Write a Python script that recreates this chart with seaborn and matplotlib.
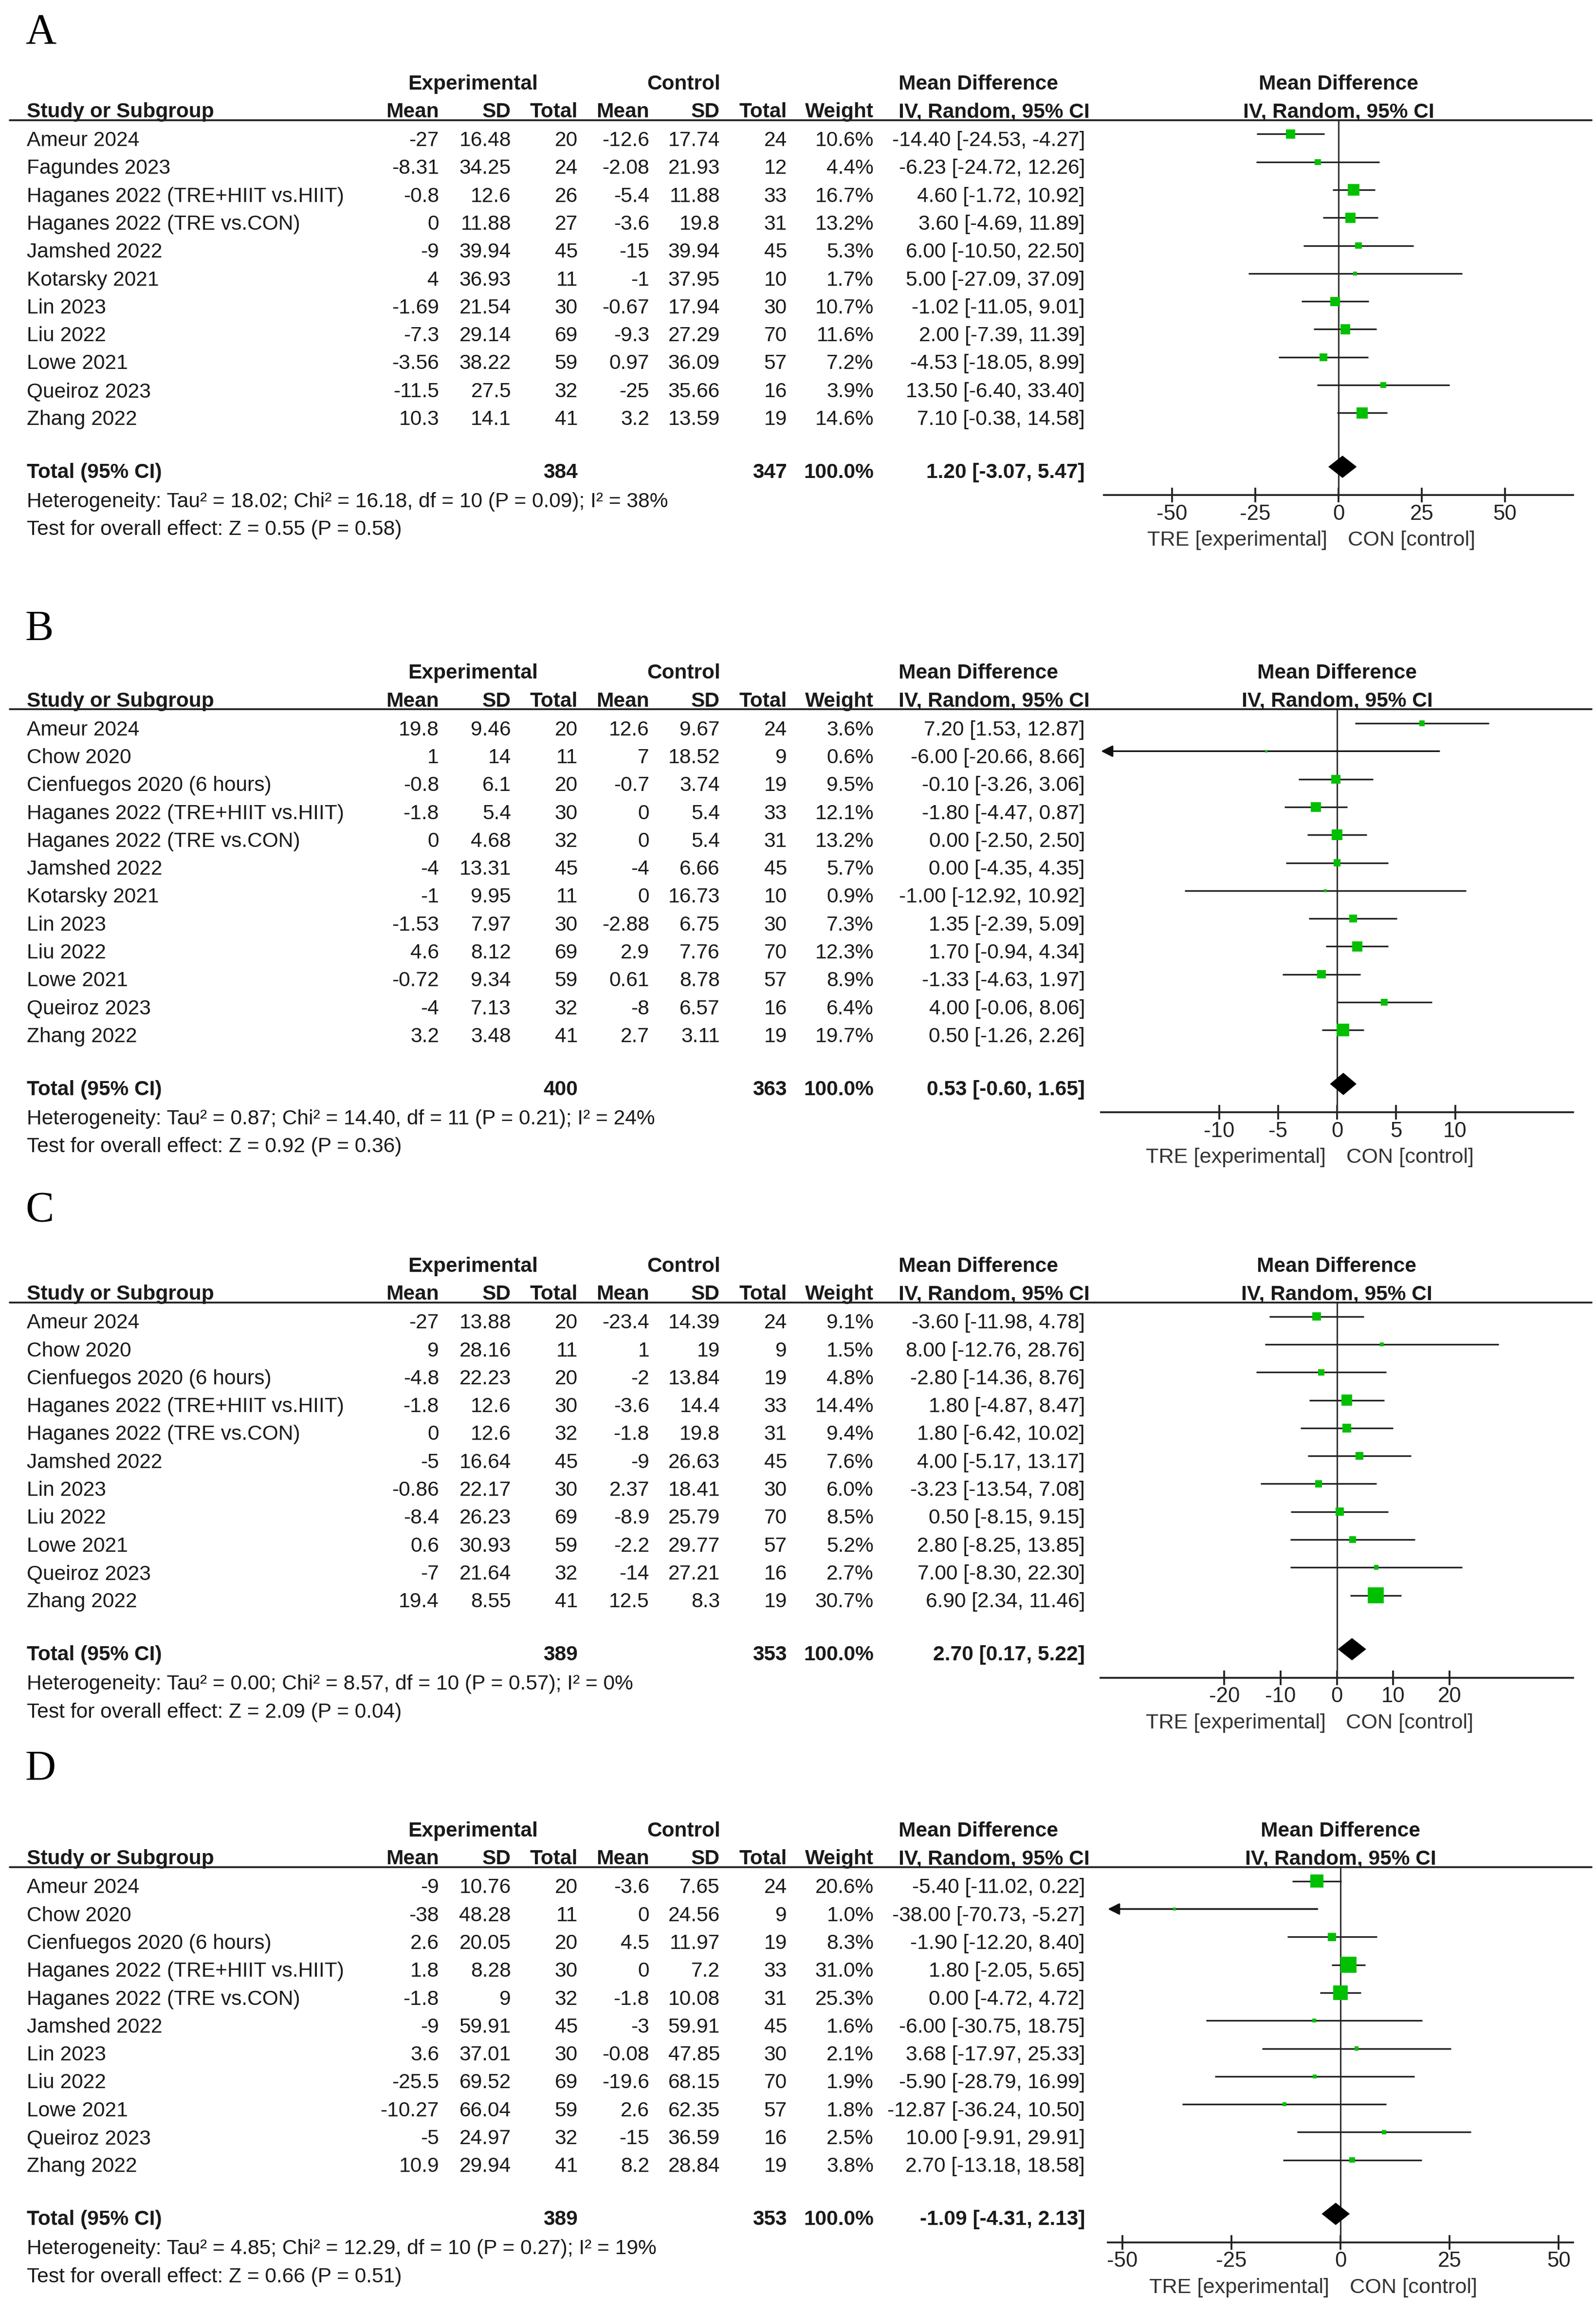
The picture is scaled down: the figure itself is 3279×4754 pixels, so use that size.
import pandas as pd
import seaborn as sns
import matplotlib.pyplot as plt
from matplotlib.lines import Line2D
from matplotlib.transforms import blended_transform_factory

# ---------------- panel A ----------------
a_study = ['Ameur 2024', 'Fagundes 2023', 'Haganes 2022 (TRE+HIIT vs.HIIT)', 'Haganes 2022 (TRE vs.CON)',
           'Jamshed 2022', 'Kotarsky 2021', 'Lin 2023', 'Liu 2022', 'Lowe 2021', 'Queiroz 2023', 'Zhang 2022']
a_exp_mean = [-27, -8.31, -0.8, 0, -9, 4, -1.69, -7.3, -3.56, -11.5, 10.3]
a_exp_sd = [16.48, 34.25, 12.6, 11.88, 39.94, 36.93, 21.54, 29.14, 38.22, 27.5, 14.1]
a_exp_n = [20, 24, 26, 27, 45, 11, 30, 69, 59, 32, 41]
a_ctl_mean = [-12.6, -2.08, -5.4, -3.6, -15, -1, -0.67, -9.3, 0.97, -25, 3.2]
a_ctl_sd = [17.74, 21.93, 11.88, 19.8, 39.94, 37.95, 17.94, 27.29, 36.09, 35.66, 13.59]
a_ctl_n = [24, 12, 33, 31, 45, 10, 30, 70, 57, 16, 19]
a_weight = [10.6, 4.4, 16.7, 13.2, 5.3, 1.7, 10.7, 11.6, 7.2, 3.9, 14.6]
a_md = [-14.40, -6.23, 4.60, 3.60, 6.00, 5.00, -1.02, 2.00, -4.53, 13.50, 7.10]
a_lo = [-24.53, -24.72, -1.72, -4.69, -10.50, -27.09, -11.05, -7.39, -18.05, -6.40, -0.38]
a_hi = [-4.27, 12.26, 10.92, 11.89, 22.50, 37.09, 9.01, 11.39, 8.99, 33.40, 14.58]
a_total = [384, 347, 1.20, -3.07, 5.47]        # n exp, n ctl, MD, lower, upper
a_het = [18.02, 16.18, 10, 0.09, 38]           # tau2, chi2, df, P, I2
a_effect = [0.55, 0.58]                        # Z, P
a_ticks = [-50, -25, 0, 25, 50]

# ---------------- panel B ----------------
b_study = ['Ameur 2024', 'Chow 2020', 'Cienfuegos 2020 (6 hours)', 'Haganes 2022 (TRE+HIIT vs.HIIT)',
           'Haganes 2022 (TRE vs.CON)', 'Jamshed 2022', 'Kotarsky 2021', 'Lin 2023', 'Liu 2022',
           'Lowe 2021', 'Queiroz 2023', 'Zhang 2022']
b_exp_mean = [19.8, 1, -0.8, -1.8, 0, -4, -1, -1.53, 4.6, -0.72, -4, 3.2]
b_exp_sd = [9.46, 14, 6.1, 5.4, 4.68, 13.31, 9.95, 7.97, 8.12, 9.34, 7.13, 3.48]
b_exp_n = [20, 11, 20, 30, 32, 45, 11, 30, 69, 59, 32, 41]
b_ctl_mean = [12.6, 7, -0.7, 0, 0, -4, 0, -2.88, 2.9, 0.61, -8, 2.7]
b_ctl_sd = [9.67, 18.52, 3.74, 5.4, 5.4, 6.66, 16.73, 6.75, 7.76, 8.78, 6.57, 3.11]
b_ctl_n = [24, 9, 19, 33, 31, 45, 10, 30, 70, 57, 16, 19]
b_weight = [3.6, 0.6, 9.5, 12.1, 13.2, 5.7, 0.9, 7.3, 12.3, 8.9, 6.4, 19.7]
b_md = [7.20, -6.00, -0.10, -1.80, 0.00, 0.00, -1.00, 1.35, 1.70, -1.33, 4.00, 0.50]
b_lo = [1.53, -20.66, -3.26, -4.47, -2.50, -4.35, -12.92, -2.39, -0.94, -4.63, -0.06, -1.26]
b_hi = [12.87, 8.66, 3.06, 0.87, 2.50, 4.35, 10.92, 5.09, 4.34, 1.97, 8.06, 2.26]
b_total = [400, 363, 0.53, -0.60, 1.65]
b_het = [0.87, 14.40, 11, 0.21, 24]
b_effect = [0.92, 0.36]
b_ticks = [-10, -5, 0, 5, 10]

# ---------------- panel C ----------------
c_study = ['Ameur 2024', 'Chow 2020', 'Cienfuegos 2020 (6 hours)', 'Haganes 2022 (TRE+HIIT vs.HIIT)',
           'Haganes 2022 (TRE vs.CON)', 'Jamshed 2022', 'Lin 2023', 'Liu 2022', 'Lowe 2021',
           'Queiroz 2023', 'Zhang 2022']
c_exp_mean = [-27, 9, -4.8, -1.8, 0, -5, -0.86, -8.4, 0.6, -7, 19.4]
c_exp_sd = [13.88, 28.16, 22.23, 12.6, 12.6, 16.64, 22.17, 26.23, 30.93, 21.64, 8.55]
c_exp_n = [20, 11, 20, 30, 32, 45, 30, 69, 59, 32, 41]
c_ctl_mean = [-23.4, 1, -2, -3.6, -1.8, -9, 2.37, -8.9, -2.2, -14, 12.5]
c_ctl_sd = [14.39, 19, 13.84, 14.4, 19.8, 26.63, 18.41, 25.79, 29.77, 27.21, 8.3]
c_ctl_n = [24, 9, 19, 33, 31, 45, 30, 70, 57, 16, 19]
c_weight = [9.1, 1.5, 4.8, 14.4, 9.4, 7.6, 6.0, 8.5, 5.2, 2.7, 30.7]
c_md = [-3.60, 8.00, -2.80, 1.80, 1.80, 4.00, -3.23, 0.50, 2.80, 7.00, 6.90]
c_lo = [-11.98, -12.76, -14.36, -4.87, -6.42, -5.17, -13.54, -8.15, -8.25, -8.30, 2.34]
c_hi = [4.78, 28.76, 8.76, 8.47, 10.02, 13.17, 7.08, 9.15, 13.85, 22.30, 11.46]
c_total = [389, 353, 2.70, 0.17, 5.22]
c_het = [0.00, 8.57, 10, 0.57, 0]
c_effect = [2.09, 0.04]
c_ticks = [-20, -10, 0, 10, 20]

# ---------------- panel D ----------------
d_study = ['Ameur 2024', 'Chow 2020', 'Cienfuegos 2020 (6 hours)', 'Haganes 2022 (TRE+HIIT vs.HIIT)',
           'Haganes 2022 (TRE vs.CON)', 'Jamshed 2022', 'Lin 2023', 'Liu 2022', 'Lowe 2021',
           'Queiroz 2023', 'Zhang 2022']
d_exp_mean = [-9, -38, 2.6, 1.8, -1.8, -9, 3.6, -25.5, -10.27, -5, 10.9]
d_exp_sd = [10.76, 48.28, 20.05, 8.28, 9, 59.91, 37.01, 69.52, 66.04, 24.97, 29.94]
d_exp_n = [20, 11, 20, 30, 32, 45, 30, 69, 59, 32, 41]
d_ctl_mean = [-3.6, 0, 4.5, 0, -1.8, -3, -0.08, -19.6, 2.6, -15, 8.2]
d_ctl_sd = [7.65, 24.56, 11.97, 7.2, 10.08, 59.91, 47.85, 68.15, 62.35, 36.59, 28.84]
d_ctl_n = [24, 9, 19, 33, 31, 45, 30, 70, 57, 16, 19]
d_weight = [20.6, 1.0, 8.3, 31.0, 25.3, 1.6, 2.1, 1.9, 1.8, 2.5, 3.8]
d_md = [-5.40, -38.00, -1.90, 1.80, 0.00, -6.00, 3.68, -5.90, -12.87, 10.00, 2.70]
d_lo = [-11.02, -70.73, -12.20, -2.05, -4.72, -30.75, -17.97, -28.79, -36.24, -9.91, -13.18]
d_hi = [0.22, -5.27, 8.40, 5.65, 4.72, 18.75, 25.33, 16.99, 10.50, 29.91, 18.58]
d_total = [389, 353, -1.09, -4.31, 2.13]
d_het = [4.85, 12.29, 10, 0.27, 19]
d_effect = [0.66, 0.51]
d_ticks = [-50, -25, 0, 25, 50]

# ---------------- layout (pixels of the 3279x4754 canvas) ----------------
W, H = 3279, 4754
ROW = 57.3
FS = 10.2
TXT = '#1a1a1a'
LINE = '#333333'
GREEN = '#00C000'
COLS = {'exp_mean': 902, 'exp_sd': 1050, 'exp_n': 1187, 'ctl_mean': 1334,
        'ctl_sd': 1479, 'ctl_n': 1617, 'weight': 1795, 'md': 2229}

sns.set_theme(style='white')
plt.rcParams['font.family'] = ['Liberation Sans', 'DejaVu Sans']
plt.rcParams['axes.unicode_minus'] = False

fig = plt.figure(figsize=(W / 300, H / 300), dpi=300)


def g(v):
    return f'{v:g}'


def draw_panel(letter, letter_y, row0, x0, x1, xlim, ticks,
               study, exp_mean, exp_sd, exp_n, ctl_mean, ctl_sd, ctl_n,
               weight, md, lo, hi, total, het, effect):
    n = len(study)
    t = n - 1 + 1.93
    top, bottom = -0.5, t + 1.02
    ytop = row0 + top * ROW
    ybot = row0 + bottom * ROW
    ax = fig.add_axes([x0 / W, 1 - ybot / H, (x1 - x0) / W, (ybot - ytop) / H])
    ax.set_xlim(-xlim, xlim)
    ax.set_ylim(bottom, top)
    tr = blended_transform_factory(fig.transFigure, ax.transData)

    def put(xpx, y, s, ha='right', bold=False):
        ax.text(xpx / W, y, s, transform=tr, ha=ha, va='baseline', fontsize=FS,
                fontweight='bold' if bold else 'normal', color=TXT, clip_on=False)

    # panel letter, baseline just under the measured centre
    fig.text(52 / W, 1 - (letter_y + 31) / H, letter, family='Liberation Serif', fontsize=21,
             ha='left', va='baseline', color='black')

    # headers
    put(972, -1.6, 'Experimental', ha='center', bold=True)
    put(1405, -1.6, 'Control', ha='center', bold=True)
    put(1846, -1.6, 'Mean Difference', ha='left', bold=True)
    put(55, -0.6, 'Study or Subgroup', ha='left', bold=True)
    for key, lab in [('exp_mean', 'Mean'), ('exp_sd', 'SD'), ('exp_n', 'Total'),
                     ('ctl_mean', 'Mean'), ('ctl_sd', 'SD'), ('ctl_n', 'Total'),
                     ('weight', 'Weight')]:
        put(COLS[key], -0.6, lab, bold=True)
    put(1846, -0.6, 'IV, Random, 95% CI', ha='left', bold=True)
    ax.text(0.5, -1.6, 'Mean Difference', transform=ax.get_yaxis_transform(), ha='center',
            va='baseline', fontsize=FS, fontweight='bold', color=TXT, clip_on=False)
    ax.text(0.5, -0.6, 'IV, Random, 95% CI', transform=ax.get_yaxis_transform(), ha='center',
            va='baseline', fontsize=FS, fontweight='bold', color=TXT, clip_on=False)
    fig.add_artist(Line2D([20 / W, 3270 / W], [top, top], transform=tr, color='#222222', lw=0.9))

    # study rows
    for i in range(n):
        y = i + 0.43
        put(55, y, study[i], ha='left')
        put(COLS['exp_mean'], y, g(exp_mean[i]))
        put(COLS['exp_sd'], y, g(exp_sd[i]))
        put(COLS['exp_n'], y, str(exp_n[i]))
        put(COLS['ctl_mean'], y, g(ctl_mean[i]))
        put(COLS['ctl_sd'], y, g(ctl_sd[i]))
        put(COLS['ctl_n'], y, str(ctl_n[i]))
        put(COLS['weight'], y, f'{weight[i]:.1f}%')
        put(COLS['md'], y, f'{md[i]:.2f} [{lo[i]:.2f}, {hi[i]:.2f}]')

    # total and footnotes
    yt = t + 0.4
    put(55, yt, 'Total (95% CI)', ha='left', bold=True)
    put(COLS['exp_n'], yt, str(total[0]), bold=True)
    put(COLS['ctl_n'], yt, str(total[1]), bold=True)
    put(COLS['weight'], yt, '100.0%', bold=True)
    put(COLS['md'], yt, f'{total[2]:.2f} [{total[3]:.2f}, {total[4]:.2f}]', bold=True)
    put(55, t + 1.45, f'Heterogeneity: Tau\u00b2 = {het[0]:.2f}; Chi\u00b2 = {het[1]:.2f}, '
                      f'df = {het[2]} (P = {het[3]:.2f}); I\u00b2 = {het[4]}%', ha='left')
    put(55, t + 2.45, f'Test for overall effect: Z = {effect[0]:.2f} (P = {effect[1]:.2f})', ha='left')

    # forest plot
    ax.axvline(0, color=LINE, lw=0.75, zorder=1)
    for i in range(n):
        right = min(hi[i], xlim)
        if lo[i] < -xlim:
            ax.annotate('', xy=(-xlim, i), xytext=(right, i), annotation_clip=False,
                        arrowprops=dict(arrowstyle='-|>,head_length=0.4,head_width=0.2',
                                        color='#111111', lw=0.8, shrinkA=0, shrinkB=0))
        else:
            ax.hlines(i, lo[i], right, color='#222222', lw=0.8, zorder=2)

    # squares: area proportional to study weight
    df = pd.DataFrame({'md': md, 'row': list(range(n)), 'weight': weight})
    wmin, wmax = min(weight), max(weight)
    sns.scatterplot(data=df, x='md', y='row', size='weight', sizes=(2.0 * wmin, 2.0 * wmax),
                    size_norm=(wmin, wmax), marker='s', color=GREEN, linewidth=0,
                    legend=False, ax=ax, zorder=3)

    h = 0.4
    ax.fill([total[3], total[2], total[4], total[2]], [t, t - h, t, t + h],
            color='black', lw=0, zorder=4)

    ax.set_xlabel('')
    ax.set_ylabel('')
    ax.set_yticks([])
    ax.set_xticks(ticks)
    ax.set_xticklabels([str(v) for v in ticks])
    sns.despine(ax=ax, left=True)
    ax.spines['bottom'].set_linewidth(0.9)
    ax.spines['bottom'].set_color('#222222')
    ax.tick_params(axis='x', direction='inout', length=7, width=0.9, colors='#222222',
                   labelsize=10.5, pad=1.0, bottom=True)
    ax.patch.set_alpha(0)
    ax.annotate('TRE [experimental]', xy=(0, 0), xycoords=('data', 'axes fraction'),
                xytext=(-5.5, -22.3), textcoords='offset points', ha='right', va='center',
                fontsize=10.4, color='#333333')
    ax.annotate('CON [control]', xy=(0, 0), xycoords=('data', 'axes fraction'),
                xytext=(4.5, -22.3), textcoords='offset points', ha='left', va='center',
                fontsize=10.4, color='#333333')


draw_panel('A', 58, 275.4, 2268, 3232, 70.5, a_ticks,
           a_study, a_exp_mean, a_exp_sd, a_exp_n, a_ctl_mean, a_ctl_sd, a_ctl_n,
           a_weight, a_md, a_lo, a_hi, a_total, a_het, a_effect)
draw_panel('B', 1284, 1486, 2262, 3232, 20, b_ticks,
           b_study, b_exp_mean, b_exp_sd, b_exp_n, b_ctl_mean, b_ctl_sd, b_ctl_n,
           b_weight, b_md, b_lo, b_hi, b_total, b_het, b_effect)
draw_panel('C', 2478, 2704.6, 2261, 3232, 42.0, c_ticks,
           c_study, c_exp_mean, c_exp_sd, c_exp_n, c_ctl_mean, c_ctl_sd, c_ctl_n,
           c_weight, c_md, c_lo, c_hi, c_total, c_het, c_effect)
draw_panel('D', 3626, 3864.7, 2276, 3232, 53.3, d_ticks,
           d_study, d_exp_mean, d_exp_sd, d_exp_n, d_ctl_mean, d_ctl_sd, d_ctl_n,
           d_weight, d_md, d_lo, d_hi, d_total, d_het, d_effect)

fig.savefig('out.png', dpi=300)
